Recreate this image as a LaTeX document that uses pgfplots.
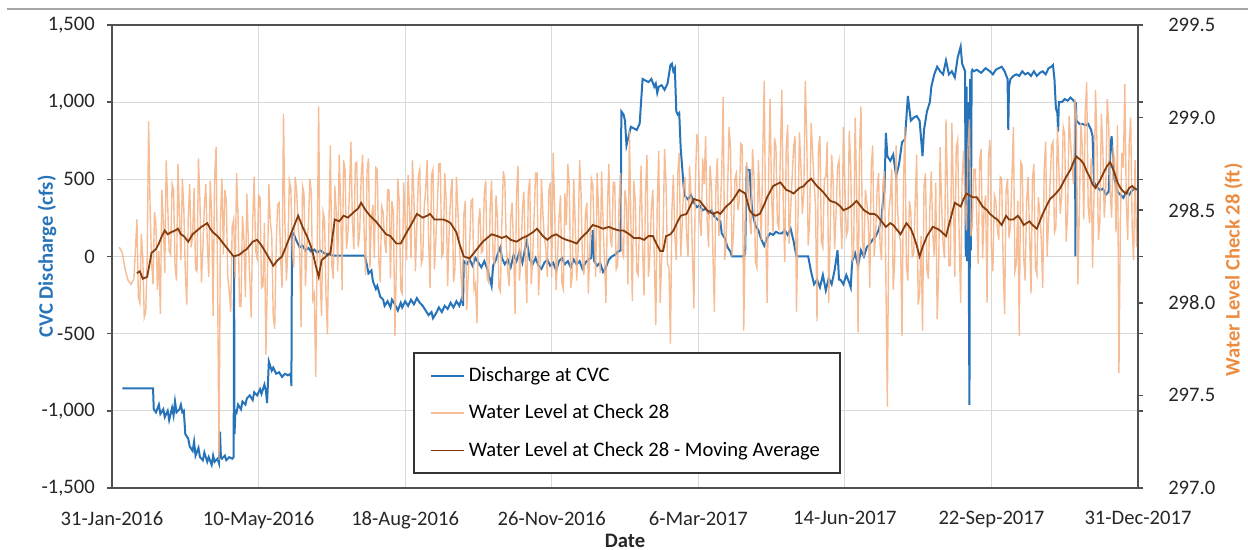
\documentclass[border=0pt]{standalone}
\usepackage{pgfplots}
\pgfplotsset{compat=1.18}
\usepackage{fontspec}
\setmainfont{Carlito}
\definecolor{cvcblue}{RGB}{38,115,186}
\definecolor{wlorange}{RGB}{244,177,131}
\definecolor{mabrown}{RGB}{132,60,12}
\definecolor{labelorange}{RGB}{235,140,65}
\definecolor{axgray}{RGB}{80,80,80}
\definecolor{gridgray}{RGB}{217,217,217}
\begin{document}
\fontsize{10.3}{12}\selectfont
\begin{tikzpicture}
\useasboundingbox (-56pt,-31pt) rectangle (568pt,244pt);
\draw[line width=1pt, color={rgb,255:red,165;green,165;blue,165}] (-52.5pt,239.5pt) -- (568pt,239.5pt);
\begin{axis}[
  at={(0,0)}, anchor=south west,
  scale only axis, width=513pt, height=231.5pt,
  xmin=0, xmax=700, ymin=-1500, ymax=1500,
  xtick={0,100,...,700},
  xticklabels={31-Jan-2016,10-May-2016,18-Aug-2016,26-Nov-2016,6-Mar-2017,14-Jun-2017,22-Sep-2017,31-Dec-2017},
  ytick={-1500,-1000,...,1500},
  yticklabels={{-1,500},{-1,000},{-500},{0},{500},{1,000},{1,500}},
  grid=major, major grid style={gridgray, line width=0.6pt},
  axis line style={axgray, line width=1pt},
  tick align=outside, major tick length=2.5pt,
  ytick style={axgray, line width=0.8pt},
  xtick style={draw=none},
  xticklabel style={yshift=-5.5pt, text=black!85},
  yticklabel style={xshift=-2.5pt, text=black!85},
  ylabel={\bfseries CVC Discharge (cfs)},
  ylabel style={text=cvcblue, at={(axis description cs:-0.0634,0.5)}, anchor=center},
  xlabel={\bfseries Date},
  xlabel style={text=black!85, at={(axis description cs:0.5,-0.1145)}, anchor=center},
]
\addplot[cvcblue, line width=1pt] coordinates {
(7,-855) (28,-855) (28.5,-990) (30,-1010) (32,-960) (33,-1020) (35,-990) (36,-1040) (38,-1000) (39,-1060) (41,-980) (42,-1030) (43,-940) (44,-1010) (46,-990) (47,-960) (48,-1010) (49,-1000)
(50,-1150) (52,-1180) (53,-1230) (55,-1260) (56,-1200) (57,-1290) (59,-1240) (60,-1300) (62,-1320) (63,-1270) (65,-1330) (66,-1300) (68,-1350) (69,-1290) (70,-1330) (72,-1310) (73,-1340) (73.7,-1135) (74.3,-1300) (75,-1310) (77,-1290) (78,-1320) (80,-1300) (82,-1310) (83,-1300)
(83.3,0) (83.6,-1150) (84.2,-1000) (85,-1010) (86,-960) (88,-990) (89,-940) (91,-960) (92,-920) (94,-900) (96,-930) (97,-880) (99,-900) (101,-860) (102,-890) (104,-830) (105,-870) (105.8,-950) (106.5,-800) (107,-680) (109,-740) (110,-720) (112,-760) (114,-750) (116,-780) (118,-760) (120,-770) (122,-760) (122.4,-840)
(122.8,150) (124,150) (125,120) (126,100) (128,60) (130,70) (132,40) (134,55) (136,30) (138,45) (140,25) (142,40) (145,20) (148,15) (151,5) (172.5,5)
(174,-60) (175,-110) (177,-90) (178,-160) (180,-210) (181,-190) (183,-260) (185,-280) (186,-320) (188,-290) (190,-330) (191,-280) (193,-310) (195,-350) (197,-300) (198,-330) (200,-290) (202,-320) (204,-280) (206,-310) (208,-270) (210,-300) (212,-320) (214,-350) (216,-380) (218,-360) (219,-400) (221,-370) (223,-330) (225,-360) (227,-320) (229,-340) (231,-300) (233,-330) (235,-290) (237,-320) (239,-260) (239.5,-320)
(240,-30) (242,-50) (244,-20) (246,-60) (248,-10) (250,-40) (252,-70) (254,-30) (256,-80) (258,-150) (259,-190) (260,-60) (262,-20) (264,40) (265,60) (266,-10) (268,-50) (270,-20) (272,-70) (274,10) (276,-30) (278,30) (280,-40) (282,60) (283,100) (285,-20) (287,-50) (289,-10) (291,-60) (293,-80) (295,-40) (297,-20) (299,-60) (301,-40) (303,-90) (305,-30) (307,-10) (309,-50) (311,-30) (313,-70) (315,-20) (317,-50) (319,-30) (321,-80) (323,-40) (325,-20) (327,-10) (328,170) (329,-30) (331,-60) (333,-40) (335,-100) (337,-70) (339,-20) (341,0) (343,10) (345,30) (347,40)
(347.5,940) (349,920) (350,880) (351,720) (352,760) (354,840) (356,830) (358,820) (360,860) (362,1150) (364,1140) (366,1130) (368,1150) (370,1100) (371,1120) (372,1060) (373,1100) (375,1110) (377,1080) (379,1120) (381,1240) (382,1250) (383,1200) (384,1220) (385,940) (386,920) (387,930) (388,700) (389,580) (390,450) (391,390) (393,370) (395,400) (397,350) (399,320) (401,330) (403,300) (405,310) (407,280) (409,300) (411,260) (413,240) (415,230) (416,150) (418,120) (420,60) (422,30) (423,0) (431,0) (432,20)
(433,570) (434,560) (435,560) (436,400) (437,280) (439,200) (441,170) (443,110) (445,70) (447,120) (449,150) (451,140) (453,160) (455,150) (457,150) (459,170) (461,140) (463,180) (465,100) (467,0) (475,0)
(477,-100) (479,-180) (481,-150) (483,-200) (485,-120) (487,-220) (489,-140) (491,-180) (493,-90) (495,40) (496,-150) (497,-150) (499,-180) (501,-120) (503,-170) (504,-200)
(505,-30) (507,20) (509,-60) (511,40) (513,0) (515,60) (517,80) (519,110) (521,130) (523,170) (525,250) (526,360) (527,420) (528,800) (529,650) (531,620) (533,660) (535,520) (537,600) (539,740) (541,760) (543,1040) (545,880) (547,900) (549,910) (551,880) (553,650) (554,820) (556,940) (558,1000) (559,1100) (561,1180) (563,1230) (565,1200) (567,1180) (569,1270) (571,1180) (573,1200) (575,1160) (577,1290) (579,1360) (580,1250) (582,1200)
(582.5,0) (583,1100) (583.5,-30) (584,1000) (584.5,20) (585,-962) (585.5,1150) (586,40) (586.5,1200) (587,1210)
(588,1200) (590,1210) (593,1190) (596,1220) (599,1200) (601,1180) (603,1210) (605,1220) (607,1230) (609,1200) (611,1150) (611.5,820) (612,1100) (613,1150) (615,1170) (617,1180) (619,1170) (621,1200) (623,1180) (625,1190) (627,1170) (629,1200) (631,1170) (633,1190) (635,1200) (637,1180) (639,1220) (641,1230) (642,1240) (643,1150) (644,960) (645,930) (645.5,810) (646,1000) (648,1000) (650,1020) (652,1010) (654,1030) (656,1010) (657,1000) (657.3,0) (657.6,1000) (658,880) (660,860) (662,860) (664,850) (666,860) (668,820) (669,780) (670,480) (672,450) (674,430) (676,440) (678,400) (680,420) (681,700) (682,780) (683,620) (684,500) (686,420) (688,400) (690,380) (692,420) (694,400) (696,430) (698,440) (700,430)
};
\end{axis}
\begin{axis}[
  at={(0,0)}, anchor=south west,
  scale only axis, width=513pt, height=231.5pt,
  xmin=0, xmax=700, ymin=297, ymax=299.5,
  axis x line=none, axis y line*=right,
  axis line style={axgray, line width=1pt},
  tick align=outside, major tick length=2.5pt,
  ytick style={axgray, line width=0.8pt},
  ytick={297,297.5,...,299.5},
  yticklabels={297.0,297.5,298.0,298.5,299.0,299.5},
  yticklabel style={xshift=9pt, text=black!85},
  ylabel={\bfseries Water Level Check 28 (ft)},
  ylabel style={text=labelorange, at={(axis description cs:1.093,0.471)}, anchor=center, rotate=0},
  legend cell align=left,
  legend style={at={(axis description cs:0.2934,0.0302)}, anchor=south west,
    draw=black!80, line width=0.8pt, fill=white, inner xsep=8pt, inner ysep=5pt,
    row sep=6pt, font=\fontsize{10.3}{12}\selectfont},
  legend image code/.code={\draw[#1] (0pt,0pt) -- (16.5pt,0pt);},
]
\addlegendimage{cvcblue, line width=1pt}
\addlegendentry{Discharge at CVC}
\addplot[wlorange, line width=0.7pt, opacity=0.85] coordinates {
(5,298.30) (7,298.27) (9,298.18) (11,298.12) (13,298.10) (15,298.13)
(17,298.45) (18,298.03) (19,298.00) (20,298.37) (21,298.25) (22,297.92) (23,297.95) (24,298.23) (25,298.98) (26,298.51) (27,298.22) (28,298.10) (29,298.49) (30,298.42) (31,298.07) (32,298.28) (33,297.94) (34,298.61) (35,298.45) (36,298.16) (37,298.77) (38,298.53) (39,298.28) (40,298.26) (41,298.64) (42,298.61) (43,298.20) (44,298.12) (45,298.75) (46,298.47) (47,298.23) (48,298.67) (49,298.51) (50,298.17)
(51,297.99) (52,298.46) (53,298.64) (54,298.30) (55,298.36) (56,298.62) (57,298.18) (58,298.17) (59,298.78) (60,298.55) (61,298.11) (62,298.29) (63,298.52) (64,298.64) (65,298.33) (66,298.14) (67,298.66) (68,298.48) (69,297.93) (70,298.67) (71,298.84) (72,298.17) (73,297.15) (74,298.45) (75,298.67) (76,298.26) (77,298.61) (78,298.55) (79,298.14) (80,298.06) (81,297.95) (82,298.41) (83,298.45) (84,298.13) (85,298.70) (86,298.47) (87,297.98) (88,297.98) (89,298.47) (90,298.35) (91,298.03) (92,298.59) (93,298.35) (94,298.13) (95,297.92) (96,298.44) (97,298.68) (98,298.28) (99,298.24) (100,298.58)
(101,298.57) (102,298.08) (103,298.09) (104,298.43) (105,297.72) (106,298.13) (107,298.64) (108,298.44) (109,298.36) (110,297.93) (111,297.86) (112,298.30) (113,298.53) (114,298.54) (115,298.25) (116,298.08) (117,299.02) (118,298.42) (119,298.12) (120,298.29) (121,298.66) (122,298.62) (123,298.29) (124,298.19) (125,298.68) (126,298.60) (127,298.42) (128,298.33) (129,297.87) (130,298.63) (131,298.59) (132,298.09) (133,298.31) (134,298.42) (135,298.67) (136,298.60) (137,298.02) (138,298.05) (139,297.60) (140,298.29) (141,299.06) (142,298.13) (143,297.93) (144,298.49) (145,298.45) (146,298.04) (147,297.83) (148,298.42) (149,298.85) (150,298.20)
(151,298.13) (152,298.63) (153,298.50) (154,298.17) (155,298.80) (156,298.54) (157,298.07) (158,298.77) (159,298.72) (160,298.29) (161,298.38) (162,298.60) (163,298.87) (164,298.44) (165,298.29) (166,298.75) (167,298.76) (168,298.30) (169,298.38) (170,298.68) (171,298.80) (172,298.39) (173,298.15) (174,298.71) (175,298.78) (176,298.19) (177,298.46) (178,298.53) (179,298.24) (180,298.73) (181,298.72) (182,298.23) (183,298.11) (184,298.52) (185,298.49) (186,298.33) (187,298.27) (188,298.61) (189,298.61) (190,298.13) (191,298.55) (192,298.49) (193,297.82) (194,298.20) (195,298.67) (196,298.54) (197,298.07) (198,298.05) (199,298.65) (200,298.44)
(201,298.23) (202,298.69) (203,298.51) (204,298.24) (205,298.77) (206,298.57) (207,298.17) (208,298.42) (209,298.68) (210,298.72) (211,298.21) (212,298.24) (213,298.51) (214,298.61) (215,298.77) (216,298.35) (217,298.08) (218,298.69) (219,298.72) (220,298.18) (221,298.35) (222,298.53) (223,298.75) (224,298.75) (225,298.25) (226,298.27) (227,298.70) (228,298.56) (229,298.09) (230,298.38) (231,298.58) (232,298.67) (233,298.11) (234,298.18) (235,298.68) (236,298.50) (237,298.32) (238,298.17) (239,298.01) (240,298.47) (241,298.55) (242,297.96) (243,298.14) (244,298.32) (245,298.55) (246,298.56) (247,298.07) (248,298.10) (249,297.89) (250,298.42)
(251,298.51) (252,298.27) (253,298.28) (254,298.59) (255,298.66) (256,298.13) (257,298.11) (258,298.51) (259,298.66) (260,298.24) (261,298.21) (262,298.58) (263,298.46) (264,298.08) (265,298.06) (266,298.44) (267,298.71) (268,298.66) (269,298.31) (270,298.17) (271,298.09) (272,298.46) (273,298.54) (274,298.29) (275,297.94) (276,298.59) (277,298.74) (278,298.12) (279,298.24) (280,298.50) (281,298.60) (282,298.24) (283,298.00) (284,298.59) (285,298.67) (286,298.10) (287,298.23) (288,298.47) (289,298.70) (290,298.70) (291,298.04) (292,298.20) (293,298.67) (294,298.48) (295,298.35) (296,298.30) (297,298.14) (298,298.60) (299,298.65) (300,298.14)
(301,298.81) (302,298.52) (303,298.07) (304,298.25) (305,298.46) (306,298.58) (307,298.10) (308,298.07) (309,298.59) (310,298.42) (311,298.75) (312,298.64) (313,298.08) (314,298.15) (315,298.67) (316,298.44) (317,298.12) (318,298.28) (319,298.77) (320,298.60) (321,298.21) (322,298.15) (323,298.48) (324,298.54) (325,298.05) (326,298.29) (327,298.67) (328,298.64) (329,298.37) (330,298.14) (331,298.70) (332,298.49) (333,298.16) (334,298.71) (335,298.45) (336,298.22) (337,298.00) (338,298.52) (339,298.75) (340,298.35) (341,298.30) (342,298.65) (343,298.65) (344,298.18) (345,298.20) (346,298.55) (347,298.70) (348,298.28) (349,298.25) (350,298.61)
(351,298.53) (352,298.10) (353,298.93) (354,298.45) (355,298.01) (356,298.66) (357,298.55) (358,298.17) (359,298.15) (360,298.47) (361,298.74) (362,298.29) (363,298.04) (364,298.60) (365,298.80) (366,298.14) (367,298.26) (368,298.51) (369,298.61) (370,298.23) (371,297.88) (372,298.53) (373,298.82) (374,298.00) (375,298.23) (376,298.38) (377,298.83) (378,298.65) (379,298.21) (380,298.19) (381,297.78) (382,298.50) (383,298.69) (384,298.36) (385,298.23) (386,298.70) (387,298.81) (388,298.25) (389,298.42) (390,298.63) (391,298.68) (392,298.37) (393,298.25) (394,298.74) (395,298.59) (396,298.27) (397,297.97) (398,298.64) (399,298.91) (400,298.86)
(401,298.45) (402,298.36) (403,298.78) (404,298.64) (405,298.90) (406,298.45) (407,298.30) (408,298.74) (409,298.63) (410,298.26) (411,297.95) (412,298.63) (413,298.78) (414,298.36) (415,298.48) (416,298.71) (417,299.11) (418,298.23) (419,298.32) (420,298.61) (421,298.95) (422,298.84) (423,298.25) (424,298.38) (425,298.67) (426,298.70) (427,298.50) (428,298.55) (429,298.86) (430,298.85) (431,297.85) (432,298.36) (433,298.76) (434,298.68) (435,298.45) (436,298.37) (437,298.83) (438,298.69) (439,298.22) (440,298.19) (441,298.77) (442,298.56) (443,298.34) (444,298.81) (445,299.20) (446,298.37) (447,298.00) (448,298.70) (449,299.10) (450,298.57)
(451,298.38) (452,298.89) (453,298.84) (454,298.43) (455,298.40) (456,298.80) (457,299.15) (458,298.51) (459,298.22) (460,298.83) (461,298.96) (462,298.32) (463,298.50) (464,298.67) (465,298.84) (466,298.90) (467,297.95) (468,298.43) (469,298.92) (470,298.74) (471,298.48) (472,298.59) (473,299.20) (474,298.90) (475,298.31) (476,298.44) (477,298.97) (478,298.81) (479,298.65) (480,298.52) (481,297.90) (482,298.84) (483,298.90) (484,298.33) (485,298.30) (486,298.67) (487,298.68) (488,298.87) (489,298.00) (490,298.37) (491,298.80) (492,298.66) (493,298.29) (494,298.48) (495,298.73) (496,298.77) (497,298.47) (498,298.29) (499,298.95) (500,298.65)
(501,298.36) (502,298.39) (503,298.93) (504,298.74) (505,298.23) (506,298.26) (507,299.00) (508,298.63) (509,297.84) (510,298.83) (511,299.06) (512,298.33) (513,298.25) (514,298.61) (515,298.54) (516,298.43) (517,298.08) (518,298.73) (519,298.85) (520,298.25) (521,298.37) (522,298.61) (523,298.70) (524,298.32) (525,298.23) (526,298.64) (527,298.71) (528,298.13) (529,297.44) (530,298.49) (531,298.57) (532,298.72) (533,298.07) (534,298.23) (535,298.85) (536,298.50) (537,298.37) (538,298.33) (539,297.82) (540,298.65) (541,298.95) (542,298.20) (543,298.12) (544,298.55) (545,298.49) (546,298.25) (547,298.26) (548,298.55) (549,298.80) (550,297.99)
(551,298.05) (552,298.36) (553,297.85) (554,298.63) (555,298.70) (556,298.18) (557,298.13) (558,298.52) (559,298.71) (560,298.36) (561,298.25) (562,298.65) (563,297.91) (564,298.17) (565,298.84) (566,298.53) (567,298.32) (568,298.24) (569,298.99) (570,298.62) (571,298.20) (572,298.20) (573,298.97) (574,298.61) (575,298.14) (576,298.84) (577,298.88) (578,298.35) (579,298.00) (580,298.67) (581,298.82) (582,298.53) (583,298.39) (584,298.84) (585,298.99) (586,298.36) (587,298.42) (588,298.72) (589,298.72) (590,298.45) (591,298.21) (592,298.77) (593,298.83) (594,298.24) (595,298.51) (596,298.58) (597,298.00) (598,298.79) (599,298.88) (600,298.30)
(601,298.17) (602,298.58) (603,298.55) (604,298.40) (605,298.34) (606,298.68) (607,298.67) (608,298.21) (609,297.94) (610,298.61) (611,298.67) (612,298.35) (613,298.41) (614,298.68) (615,298.95) (616,298.17) (617,298.21) (618,298.55) (619,297.82) (620,298.76) (621,298.74) (622,298.25) (623,298.12) (624,298.54) (625,298.68) (626,298.38) (627,298.05) (628,298.67) (629,298.75) (630,298.19) (631,298.15) (632,298.57) (633,298.49) (634,298.34) (635,298.08) (636,298.72) (637,298.87) (638,298.25) (639,298.45) (640,298.64) (641,298.85) (642,298.87) (643,298.38) (644,298.41) (645,298.95) (646,298.73) (647,298.48) (648,298.59) (649,298.95) (650,298.91)
(651,298.33) (652,298.48) (653,299.01) (654,298.87) (655,298.74) (656,298.64) (657,299.10) (658,299.00) (659,298.10) (660,298.50) (661,298.97) (662,298.84) (663,298.45) (664,299.03) (665,299.19) (666,298.52) (667,298.43) (668,298.78) (669,298.19) (670,298.58) (671,299.15) (672,298.88) (673,298.34) (674,298.44) (675,299.02) (676,298.84) (677,298.46) (678,298.61) (679,299.10) (680,298.97) (681,298.61) (682,298.46) (683,298.82) (684,298.78) (685,298.38) (686,298.96) (687,297.62) (688,298.45) (689,298.81) (690,298.73) (691,299.18) (692,298.55) (693,298.34) (694,298.86) (695,299.00) (696,298.41) (697,298.23) (698,298.77) (699,298.30)
};
\addlegendentry{Water Level at Check 28}
\addplot[mabrown, line width=0.9pt] coordinates {
(17,298.16) (19,298.17) (21,298.13) (24,298.14) (27,298.27) (30,298.29) (32,298.32) (34,298.36) (36,298.39) (38,298.37) (40,298.38) (43,298.39) (45,298.40) (47,298.37) (49,298.36) (52,298.33) (55,298.37) (58,298.39) (61,298.41) (65,298.43) (67,298.40) (69,298.38) (72,298.36) (76,298.32) (79,298.29) (83,298.25) (87,298.26) (90,298.28) (92,298.29) (96,298.33) (99,298.34) (102,298.31) (105,298.27) (108,298.23) (110,298.20) (113,298.23) (116,298.25) (119,298.31) (123,298.39) (125,298.43) (127,298.47) (130,298.41) (133,298.36) (135,298.32) (137,298.27) (139,298.20) (141,298.14) (143,298.23) (146,298.25) (149,298.27) (152,298.45) (155,298.44) (158,298.47) (161,298.46) (165,298.49) (168,298.51) (170,298.54) (173,298.50) (176,298.47) (180,298.44) (183,298.41) (187,298.37) (190,298.36) (194,298.32) (197,298.32) (201,298.38) (204,298.42) (206,298.45) (208,298.48) (212,298.46) (215,298.47) (217,298.48) (220,298.45) (222,298.45) (226,298.45) (229,298.44) (231,298.43) (235,298.38) (237,298.32) (240,298.25) (244,298.24) (247,298.27) (249,298.29) (253,298.33) (256,298.35) (259,298.37) (263,298.36) (266,298.35) (269,298.36) (272,298.34) (276,298.33) (280,298.35) (283,298.36) (287,298.38) (290,298.40) (294,298.36) (297,298.34) (300,298.36) (303,298.37) (307,298.35) (310,298.34) (314,298.33) (317,298.32) (320,298.35) (324,298.38) (328,298.42) (332,298.41) (335,298.40) (339,298.41) (342,298.40) (346,298.39) (349,298.39) (353,298.37) (356,298.35) (360,298.35) (363,298.34) (366,298.36) (369,298.36) (372,298.31) (374,298.28) (376,298.28) (378,298.36) (381,298.37) (383,298.39) (386,298.44) (388,298.47) (392,298.48) (395,298.53) (397,298.56) (401,298.55) (404,298.52) (406,298.50) (410,298.48) (413,298.49) (415,298.48) (419,298.52) (422,298.54) (424,298.56) (428,298.61) (432,298.59) (435,298.50) (437,298.48) (439,298.47) (442,298.48) (445,298.53) (447,298.57) (451,298.63) (456,298.65) (458,298.63) (460,298.61) (463,298.60) (465,298.59) (469,298.62) (472,298.63) (474,298.65) (477,298.67) (481,298.63) (485,298.60) (488,298.57) (490,298.55) (494,298.54) (497,298.52) (499,298.50) (502,298.51) (504,298.52) (508,298.55) (511,298.52) (513,298.50) (517,298.48) (520,298.48) (522,298.47) (525,298.44) (528,298.41) (531,298.43) (533,298.42) (536,298.39) (538,298.37) (542,298.43) (545,298.40) (547,298.36) (549,298.31) (551,298.25) (553,298.30) (556,298.36) (560,298.41) (563,298.40) (565,298.39) (569,298.36) (572,298.45) (575,298.54) (579,298.52) (581,298.56) (583,298.59) (587,298.57) (590,298.57) (594,298.52) (597,298.50) (599,298.48) (602,298.46) (604,298.45) (607,298.42) (610,298.47) (612,298.45) (615,298.45) (618,298.47) (620,298.45) (622,298.42) (626,298.44) (628,298.42) (631,298.40) (635,298.48) (638,298.53) (640,298.56) (644,298.59) (647,298.62) (649,298.65) (651,298.68) (654,298.72) (656,298.76) (658,298.79) (661,298.77) (663,298.75) (665,298.71) (667,298.68) (669,298.64) (671,298.62) (674,298.66) (677,298.71) (679,298.74) (681,298.76) (684,298.70) (686,298.65) (688,298.62) (690,298.60) (692,298.59) (694,298.62) (696,298.63) (699,298.61)
};
\addlegendentry{Water Level at Check 28 - Moving Average}
\end{axis}
\end{tikzpicture}
\end{document}
